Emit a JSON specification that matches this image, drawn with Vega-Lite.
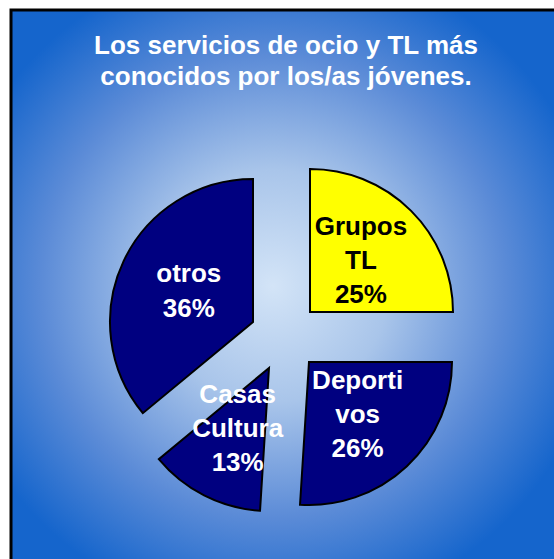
{
  "$schema": "https://vega.github.io/schema/vega-lite/v6.json",
  "width": 546,
  "height": 552,
  "autosize": {"type": "none"},
  "padding": {"left": 11, "top": 10, "right": -3, "bottom": -3},
  "background": "white",
  "config": {"view": {"stroke": null}},
  "title": {
    "text": ["Los servicios de ocio y TL más", "conocidos por los/as jóvenes."],
    "color": "white",
    "fontSize": 26,
    "font": "Liberation Sans",
    "fontWeight": "bold",
    "lineHeight": 31,
    "anchor": "middle",
    "offset": -102,
    "baseline": "alphabetic",
    "dx": 2
  },
  "datasets": {
    "slices": [
      {"servicio": "Grupos TL", "pct": 25, "ord": 1, "label": "Grupos\nTL\n25%"},
      {"servicio": "Deportivos", "pct": 26, "ord": 2, "label": "Deporti\nvos\n26%"},
      {"servicio": "Casas Cultura", "pct": 13, "ord": 3, "label": "Casas\nCultura\n13%"},
      {"servicio": "otros", "pct": 36, "ord": 4, "label": "otros\n36%"}
    ]
  },
  "layer": [
    {
      "data": {"values": [{}]},
      "mark": {
        "type": "rect",
        "fill": {
          "gradient": "radial",
          "x1": 0.48, "y1": 0.5, "r1": 0,
          "x2": 0.48, "y2": 0.5, "r2": 0.6,
          "stops": [
            {"offset": 0, "color": "#d3e4f7"},
            {"offset": 0.35, "color": "#a9c5ea"},
            {"offset": 0.7, "color": "#5b8bd7"},
            {"offset": 1, "color": "#1565cc"}
          ]
        },
        "stroke": "black",
        "strokeWidth": 3
      },
      "encoding": {}
    },
    {
      "data": {"name": "slices"},
      "encoding": {
        "theta": {"field": "pct", "type": "quantitative", "stack": true},
        "order": {"field": "ord", "type": "quantitative"},
        "opacity": {"condition": {"test": "datum.servicio === 'Grupos TL'", "value": 1}, "value": 0}
      },
      "layer": [
        {"mark": {"type": "arc", "radius": 143, "fill": "#FFFF00", "stroke": "black", "strokeWidth": 2, "xOffset": 26, "yOffset": 26}},
        {"mark": {"type": "text", "radius": 72, "xOffset": 26, "yOffset": -8, "fontSize": 26, "fontWeight": "bold", "font": "Liberation Sans", "fill": "black", "lineBreak": "\n", "lineHeight": 34, "align": "center", "baseline": "middle"},
         "encoding": {"text": {"field": "label"}}}
      ]
    },
    {
      "data": {"name": "slices"},
      "encoding": {
        "theta": {"field": "pct", "type": "quantitative", "stack": true},
        "order": {"field": "ord", "type": "quantitative"},
        "opacity": {"condition": {"test": "datum.servicio === 'Deportivos'", "value": 1}, "value": 0}
      },
      "layer": [
        {"mark": {"type": "arc", "radius": 143, "fill": "#000080", "stroke": "black", "strokeWidth": 2, "xOffset": 25, "yOffset": 76}},
        {"mark": {"type": "text", "radius": 71, "xOffset": 25, "yOffset": 43, "fontSize": 26, "fontWeight": "bold", "font": "Liberation Sans", "fill": "white", "lineBreak": "\n", "lineHeight": 34, "align": "center", "baseline": "middle"},
         "encoding": {"text": {"field": "label"}}}
      ]
    },
    {
      "data": {"name": "slices"},
      "encoding": {
        "theta": {"field": "pct", "type": "quantitative", "stack": true},
        "order": {"field": "ord", "type": "quantitative"},
        "opacity": {"condition": {"test": "datum.servicio === 'Casas Cultura'", "value": 1}, "value": 0}
      },
      "layer": [
        {"mark": {"type": "arc", "radius": 143, "fill": "#000080", "stroke": "black", "strokeWidth": 2, "xOffset": -15, "yOffset": 82}},
        {"mark": {"type": "text", "radius": 69, "xOffset": -15, "yOffset": 48, "fontSize": 26, "fontWeight": "bold", "font": "Liberation Sans", "fill": "white", "lineBreak": "\n", "lineHeight": 34, "align": "center", "baseline": "middle"},
         "encoding": {"text": {"field": "label"}}}
      ]
    },
    {
      "data": {"name": "slices"},
      "encoding": {
        "theta": {"field": "pct", "type": "quantitative", "stack": true},
        "order": {"field": "ord", "type": "quantitative"},
        "opacity": {"condition": {"test": "datum.servicio === 'otros'", "value": 1}, "value": 0}
      },
      "layer": [
        {"mark": {"type": "arc", "radius": 143, "fill": "#000080", "stroke": "black", "strokeWidth": 2, "xOffset": -31, "yOffset": 36}},
        {"mark": {"type": "text", "radius": 71, "xOffset": -31, "yOffset": 18, "fontSize": 26, "fontWeight": "bold", "font": "Liberation Sans", "fill": "white", "lineBreak": "\n", "lineHeight": 35, "align": "center", "baseline": "middle"},
         "encoding": {"text": {"field": "label"}}}
      ]
    }
  ]
}
